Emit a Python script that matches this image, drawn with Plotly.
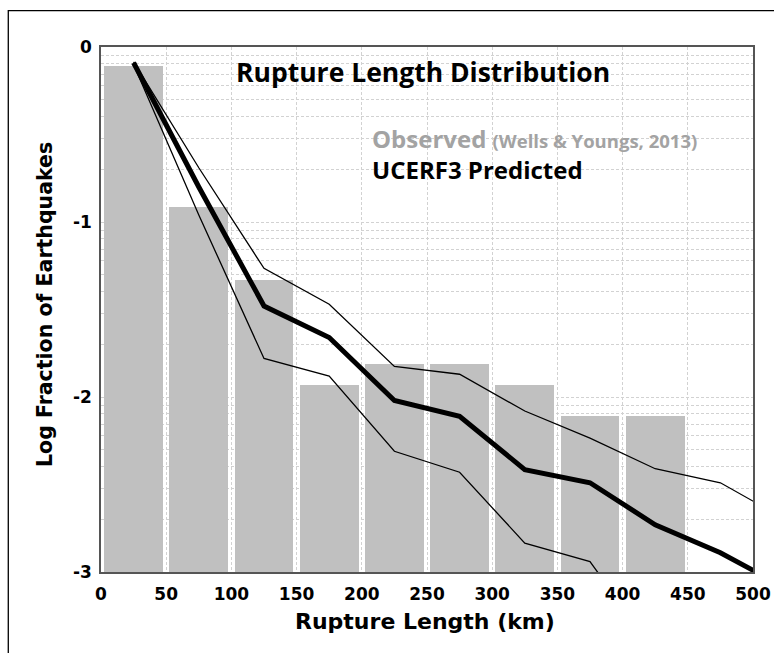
import numpy as np
import plotly.graph_objects as go

# observed histogram (log10 fraction), 50 km bins
bin_centers = [25, 75, 125, 175, 225, 275, 325, 375, 425]
observed = [-0.11, -0.915, -1.33, -1.93, -1.81, -1.81, -1.93, -2.11, -2.11]

# UCERF3 predicted: mean and bounds (log10 fraction)
pred_x = [25, 75, 125, 175, 225, 275, 325, 375, 425, 475, 525]
pred_mean = [-0.09, -0.80, -1.48, -1.66, -2.02, -2.11, -2.415, -2.49, -2.73, -2.89, -3.09]
pred_upper = [-0.085, -0.69, -1.265, -1.47, -1.825, -1.87, -2.08, -2.235, -2.41, -2.49, -2.70]
pred_lower_x = [25, 75, 125, 175, 225, 275, 325, 375, 425]
pred_lower = [-0.10, -0.96, -1.78, -1.88, -2.31, -2.43, -2.835, -2.94, -3.46]

x_ticks = [0, 50, 100, 150, 200, 250, 300, 350, 400, 450, 500]
y_ticks = [0, -1, -2, -3]
y_ticktext = ["0", "-1", "-2", "-3"]

Y_MIN = -3
GRID = "#d2d2d2"
BAR = "#c0c0c0"
OBS_GREY = "#a3a3a3"

# minor grid at log positions inside each decade
minor_y = [d + np.log10(k) for d in (-3, -2, -1) for k in range(2, 10)]

fig = go.Figure()
fig.add_trace(go.Bar(x=bin_centers, y=[v - Y_MIN for v in observed], base=Y_MIN,
                     width=45, marker=dict(color=BAR, line=dict(width=0)),
                     name="Observed", showlegend=False))
fig.add_trace(go.Scatter(x=pred_x, y=pred_upper, mode="lines",
                         line=dict(color="black", width=1.3), showlegend=False))
fig.add_trace(go.Scatter(x=pred_lower_x, y=pred_lower, mode="lines",
                         line=dict(color="black", width=1.3), showlegend=False))
fig.add_trace(go.Scatter(x=pred_x, y=pred_mean, mode="lines",
                         line=dict(color="black", width=5), showlegend=False))

tick_font = dict(family="DejaVu Sans", size=17, color="black", weight="bold")

fig.update_xaxes(range=[0, 500], tickvals=x_ticks, tickfont=tick_font,
                 ticks="outside", ticklen=6, tickcolor="rgba(0,0,0,0)",
                 showgrid=True, gridcolor=GRID, griddash="3px,2px", gridwidth=1,
                 showline=True, linecolor="#555", linewidth=1.5, mirror=True,
                 zeroline=False, automargin=False)
fig.update_yaxes(range=[Y_MIN, 0], tickvals=y_ticks, ticktext=y_ticktext,
                 tickfont=tick_font, ticks="outside", ticklen=4,
                 tickcolor="rgba(0,0,0,0)",
                 showgrid=True, gridcolor=GRID, griddash="3px,2px", gridwidth=1,
                 minor=dict(tickmode="array", tickvals=minor_y, showgrid=True,
                            gridcolor=GRID, griddash="3px,2px", gridwidth=1,
                            ticks=""),
                 showline=True, linecolor="#555", linewidth=1.5, mirror=True,
                 zeroline=False, automargin=False)

fig.update_layout(
    width=774, height=653,
    margin=dict(l=101, r=21, t=47, b=81),
    plot_bgcolor="white", paper_bgcolor="white",
    bargap=0,
    shapes=[dict(type="rect", xref="paper", yref="paper",
                 x0=-0.1422, x1=1.1, y0=-0.2, y1=1.0691,
                 line=dict(color="black", width=1.3), layer="below")],
    annotations=[
        dict(text="Rupture Length Distribution", xref="paper", yref="paper",
             x=0.4946, y=0.953, xanchor="center", yanchor="middle",
             showarrow=False,
             font=dict(family="Open Sans", size=26.5, color="black", weight="bold")),
        dict(text="Observed <span style='font-size:18.5px'>(Wells &amp; Youngs, 2013)</span>",
             xref="paper", yref="paper", x=0.4126, y=0.8257,
             xanchor="left", yanchor="middle", showarrow=False,
             font=dict(family="Open Sans", size=24, color=OBS_GREY, weight="bold")),
        dict(text="UCERF3 Predicted", xref="paper", yref="paper",
             x=0.4126, y=0.7676, xanchor="left", yanchor="middle",
             showarrow=False,
             font=dict(family="Open Sans", size=24, color="black", weight="bold")),
        dict(text="Rupture Length (km)", xref="paper", yref="paper",
             x=0.497, y=-0.094, xanchor="center", yanchor="middle",
             showarrow=False,
             font=dict(family="DejaVu Sans", size=22, color="black", weight="bold")),
        dict(text="Log Fraction of Earthquakes", xref="paper", yref="paper",
             x=-0.0859, y=0.5105, xanchor="center", yanchor="middle",
             textangle=-90, showarrow=False,
             font=dict(family="DejaVu Sans", size=20.5, color="black", weight="bold")),
    ],
)

# drop the browser's default body margin so the figure fills the window
fig.write_html("out.html", config={"displayModeBar": False},
               post_script="document.body.style.margin='0';"
                           "document.body.style.overflow='hidden';")
